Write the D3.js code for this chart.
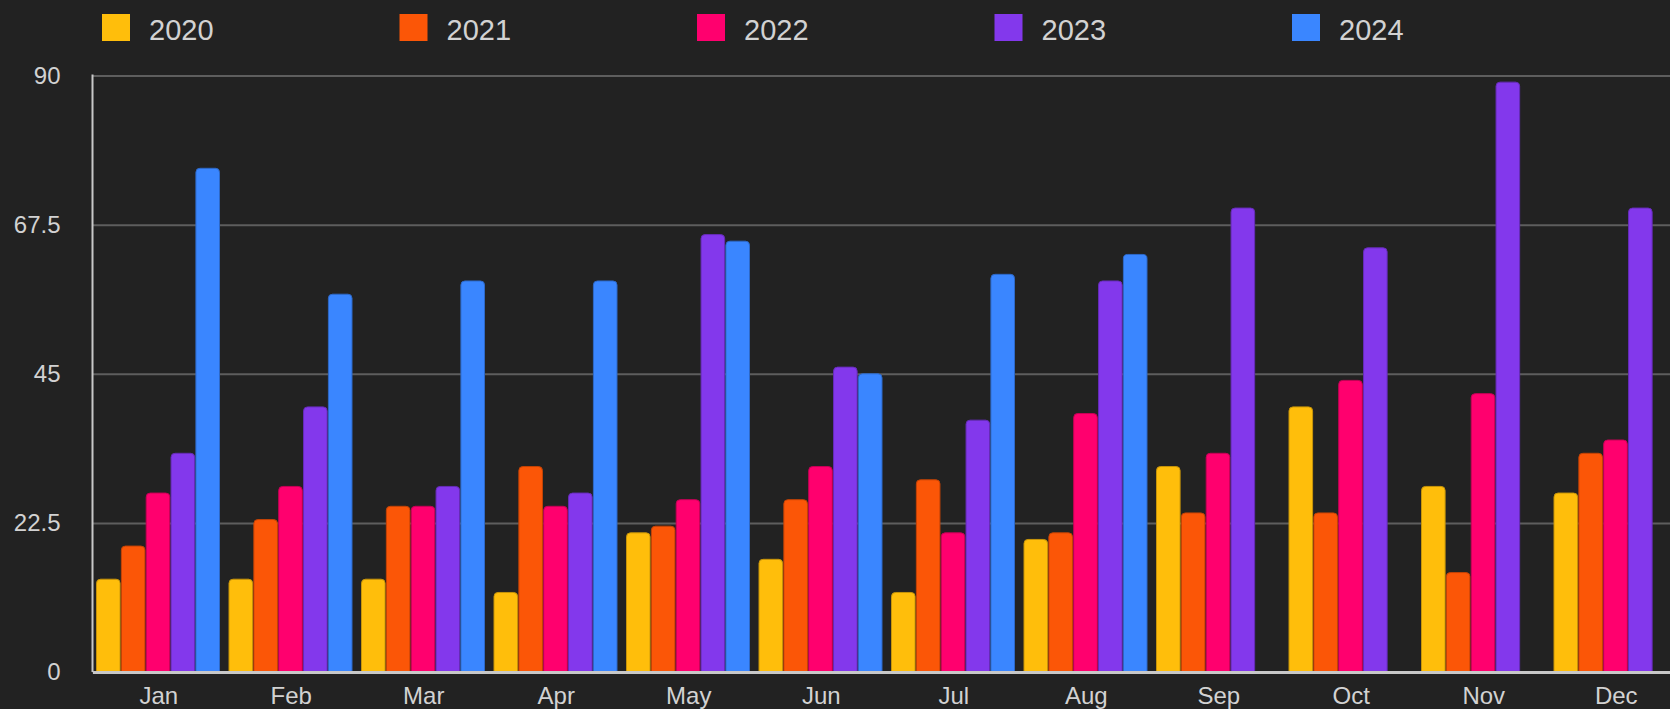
<!DOCTYPE html>
<html>
<head>
<meta charset="utf-8">
<script src="https://cdn.jsdelivr.net/npm/d3@7"></script>
<style>
  html, body { margin: 0; padding: 0; background: #222222; overflow: hidden; }
  svg { display: block; font-family: "Liberation Sans", Arial, Helvetica, sans-serif; }
</style>
</head>
<body>
<div id="chart"></div>
<script>
const months = ["Jan", "Feb", "Mar", "Apr", "May", "Jun", "Jul", "Aug", "Sep", "Oct", "Nov", "Dec"];
const years = ["2020", "2021", "2022", "2023", "2024"];
const colors = ["#FFBE0B", "#FB5607", "#FF006E", "#8338EC", "#3A86FF"];

const v2020 = [14, 14, 14, 12, 21, 17, 12, 20, 31, 40, 28, 27];
const v2021 = [19, 23, 25, 31, 22, 26, 29, 21, 24, 24, 15, 33];
const v2022 = [27, 28, 25, 25, 26, 31, 21, 39, 33, 44, 42, 35];
const v2023 = [33, 40, 28, 27, 66, 46, 38, 59, 70, 64, 89, 70];
const v2024 = [76, 57, 59, 59, 65, 45, 60, 63, null, null, null, null];
const series = [v2020, v2021, v2022, v2023, v2024];

const yTicks = [0, 22.5, 45, 67.5, 90];

const W = 1670, H = 709;
const plotLeft = 92.5, plotTop = 75.5, plotBottom = 672;
const bandStep = 132.5; // chart is a bit wider than the window, last band gets clipped

const svg = d3.select("#chart").append("svg")
  .attr("width", W)
  .attr("height", H);

const x = d3.scaleBand()
  .domain(months)
  .range([plotLeft, plotLeft + months.length * bandStep])
  .padding(0);

const xInner = d3.scaleBand()
  .domain(years)
  .range([4, 127])
  .paddingInner(0.05);

const y = d3.scaleLinear()
  .domain([0, 90])
  .range([plotBottom, plotTop]);

const color = d3.scaleOrdinal().domain(years).range(colors);

// grid + y labels
const yAxis = svg.append("g")
  .attr("transform", `translate(${plotLeft},0)`)
  .call(d3.axisLeft(y)
    .tickValues(yTicks)
    .tickFormat(d => d)
    .tickSize(-(W - plotLeft))
    .tickSizeOuter(0)
    .tickPadding(32));

yAxis.select(".domain").remove();
yAxis.selectAll(".tick line")
  .attr("stroke", "#5e5e5e")
  .attr("stroke-width", 2);
yAxis.selectAll(".tick text")
  .attr("fill", "#d2d2d2")
  .attr("font-size", 24)
  .attr("font-family", "Liberation Sans, Arial, sans-serif");

// bars, rounded on top only
function topRounded(x0, y0, w, h, r) {
  r = Math.min(r, h, w / 2);
  return `M${x0},${y0 + h}V${y0 + r}Q${x0},${y0} ${x0 + r},${y0}` +
    `H${x0 + w - r}Q${x0 + w},${y0} ${x0 + w},${y0 + r}V${y0 + h}Z`;
}

const rows = [];
months.forEach((m, i) => {
  years.forEach((yr, j) => {
    const v = series[j][i];
    if (v != null) rows.push({ month: m, year: yr, value: v });
  });
});

svg.append("g")
  .selectAll("path")
  .data(rows)
  .join("path")
  .attr("d", d => {
    const bx = x(d.month) + xInner(d.year);
    const by = y(d.value);
    return topRounded(bx, by, xInner.bandwidth(), plotBottom - by, 4);
  })
  .attr("fill", d => color(d.year))
  .attr("stroke", d => d3.color(color(d.year)).darker(0.7))
  .attr("stroke-width", 1);

// left axis line
svg.append("line")
  .attr("x1", plotLeft).attr("x2", plotLeft)
  .attr("y1", plotTop - 1).attr("y2", plotBottom)
  .attr("stroke", "#c8c8c8")
  .attr("stroke-width", 2);

// x axis
const xAxis = svg.append("g")
  .attr("transform", `translate(0,${plotBottom})`)
  .call(d3.axisBottom(x).tickSize(0).tickPadding(14.5));

xAxis.select(".domain")
  .attr("stroke", "#c8c8c8")
  .attr("stroke-width", 3);
xAxis.selectAll(".tick text")
  .attr("fill", "#d2d2d2")
  .attr("font-size", 24)
  .attr("font-family", "Liberation Sans, Arial, sans-serif");

// legend
const legend = svg.append("g")
  .selectAll("g")
  .data(years)
  .join("g")
  .attr("transform", (d, i) => `translate(${102 + i * 297.5},14)`);

legend.append("rect")
  .attr("width", 28)
  .attr("height", 27)
  .attr("fill", d => color(d));

legend.append("text")
  .attr("x", 47)
  .attr("y", 26)
  .attr("fill", "#d2d2d2")
  .attr("font-size", 29)
  .text(d => d);
</script>
</body>
</html>
